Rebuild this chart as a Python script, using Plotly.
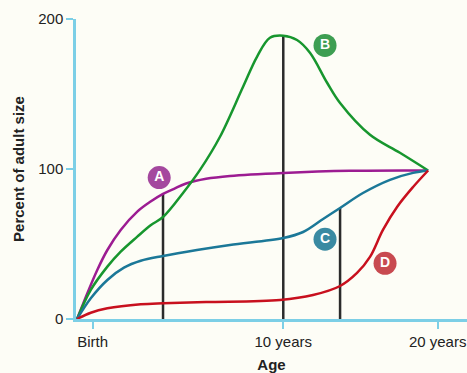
import plotly.graph_objects as go

# Curve data (x in schematic age units: Birth=0, 10 years=10, 20 years tick=18.1)
a_x = [-0.82, -0.28, 0.24, 0.77, 1.47, 2.34, 3.04, 3.69, 4.27, 4.9, 5.95, 7.2, 10.0, 13.5, 17.6]
a_y = [0, 17.2, 32.7, 46, 59.4, 71.6, 78.3, 83.4, 86.8, 90.3, 93.5, 95.4, 97.4, 98.8, 99]

b_x = [-0.82, -0.1, 0.77, 1.47, 2.34, 3.04, 3.69, 4.74, 5.63, 6.68, 7.89, 8.62, 9.30, 10.0,
       10.72, 11.40, 12.30, 12.98, 14.55, 16.12, 17.6]
b_y = [0, 19.4, 34.9, 44.9, 54.9, 62.5, 68.0, 84, 99.4, 121.5, 154.8, 174.8, 187.5, 188.9,
       186, 177.5, 157.5, 144, 122.8, 110.8, 99]

c_x = [-0.82, -0.1, 0.77, 1.64, 2.52, 3.69, 5.47, 7.2, 10.0, 11.04, 12.09, 12.98, 14.18, 15.6, 16.81, 17.6]
c_y = [0, 13.8, 26, 34.2, 38.8, 42, 46, 49.4, 54, 58, 66.7, 74, 84, 92.8, 97.4, 99]

d_x = [-0.82, -0.1, 0.77, 2.52, 3.69, 5.95, 9.83, 11.56, 12.98, 13.87, 14.55, 15.23, 15.97, 16.81, 17.6]
d_y = [0, 4.2, 7.1, 9.8, 10.5, 11.3, 12.7, 16, 22, 30.7, 41.4, 59.4, 74.7, 88, 99]

# Vertical marker lines: x position and top value
vline_x = [3.69, 10.0, 12.98]
vline_top = [83.4, 188.9, 74]

# Curve labels
label_text = ["A", "B", "C", "D"]
label_x = [3.49, 12.19, 12.19, 15.34]
label_y = [94.3, 182.4, 53.2, 37.1]

tick_vals = [0, 10, 18.1]
tick_text = ["Birth", "10 years", "20 years"]
y_ticks = [0, 100, 200]

line_colors = ["#9c1c92", "#17962e", "#1b7898", "#c8101e"]
label_colors = ["#a4489e", "#3d9e52", "#3a8aa2", "#c84a50"]
axis_color = "#7ccfe6"
bg = "#fdfdf6"
font_family = "Liberation Sans, Arial, sans-serif"

fig = go.Figure()

for vx, vt in zip(vline_x, vline_top):
    fig.add_trace(go.Scatter(x=[vx, vx], y=[0, vt], mode="lines",
                             line=dict(color="#2b2b2b", width=2.5),
                             hoverinfo="skip", showlegend=False))

for xs, ys, col in [(a_x, a_y, line_colors[0]), (b_x, b_y, line_colors[1]),
                    (c_x, c_y, line_colors[2]), (d_x, d_y, line_colors[3])]:
    fig.add_trace(go.Scatter(x=xs, y=ys, mode="lines",
                             line=dict(color=col, width=2.5, shape="spline", smoothing=1.0),
                             showlegend=False))

fig.add_trace(go.Scatter(x=label_x, y=label_y, mode="markers+text",
                         text=label_text, textposition="middle center",
                         textfont=dict(family=font_family, size=14, color="white"),
                         texttemplate="<b>%{text}</b>",
                         marker=dict(size=23, color=label_colors, line=dict(width=0)),
                         showlegend=False, cliponaxis=False))

fig.update_layout(
    width=467, height=373,
    margin=dict(l=76, r=0, t=19, b=54, autoexpand=False),
    paper_bgcolor=bg, plot_bgcolor=bg,
    font=dict(family=font_family, size=15, color="#222222"),
)
fig.update_xaxes(range=[-0.876, 19.64], showgrid=False, zeroline=False, automargin=False,
                 showline=True, linecolor=axis_color, linewidth=2.5,
                 ticks="outside", ticklen=7, tickwidth=2, tickcolor=axis_color,
                 tickvals=tick_vals, ticktext=tick_text,
                 tickfont=dict(size=15, color="#222222"),
                 title=dict(text="<b>Age</b>", font=dict(size=15, color="#222222")))
fig.update_yaxes(range=[0, 200], showgrid=False, zeroline=False, automargin=False,
                 showline=True, linecolor=axis_color, linewidth=2.5,
                 ticks="outside", ticklen=7, tickwidth=2, tickcolor=axis_color,
                 tickvals=y_ticks,
                 tickfont=dict(size=15, color="#222222"),
                 title=dict(text="<b>Percent of adult size</b>", standoff=10,
                            font=dict(size=15, color="#222222")))

fig.write_html("out.html",
               config={"displayModeBar": False},
               post_script="document.body.style.margin='0px';"
                           "document.body.style.background='" + bg + "';"
                           "document.body.style.overflow='hidden';")
